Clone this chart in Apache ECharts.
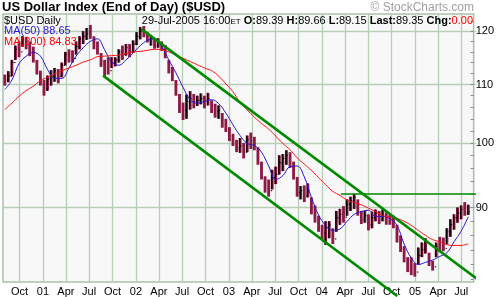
<!DOCTYPE html>
<html><head><meta charset="utf-8">
<script src="https://cdn.jsdelivr.net/npm/echarts@6/dist/echarts.min.js"></script>
<style>html,body{margin:0;padding:0;background:#fff}#c{width:497px;height:297px}</style>
</head><body><div id="c"></div>
<script>
// ---- data ----
const startDate = '2000-08-04';   // first bi-weekly bar
const stepDays = 14;
const high = [111.8,112.4,114.5,117.2,118.0,119.0,118.9,118.0,117.0,114.5,112.5,110.8,111.6,112.6,113.0,112.8,114.0,116.0,116.5,116.3,
  118.0,119.0,120.0,120.6,121.2,119.0,118.0,115.8,114.5,115.0,115.0,115.0,116.5,117.2,117.5,117.5,118.2,119.8,120.8,121.0,
  119.8,119.2,118.5,118.6,118.0,117.3,114.5,113.2,110.8,108.3,106.8,108.2,108.8,108.3,108.0,108.4,108.0,108.5,107.2,106.6,
  106.3,105.0,104.0,102.6,101.5,100.5,100.8,100.0,101.2,101.7,101.0,99.3,97.0,94.7,94.2,95.7,96.2,98.0,98.2,98.8,
  98.5,97.0,94.6,93.2,93.3,93.6,91.5,90.3,88.8,87.5,88.0,88.0,87.0,89.5,89.8,90.2,91.2,91.6,92.0,91.2,
  89.5,89.5,89.0,89.4,89.7,89.5,89.7,89.3,89.0,88.8,87.5,86.0,84.5,83.0,83.0,82.2,84.3,85.0,85.6,83.6,
  82.5,85.0,85.8,85.7,87.0,88.3,89.0,90.0,90.3,90.8,90.4];
const low = [109.8,110.4,111.5,114.5,115.0,117.0,116.5,115.2,114.0,111.8,109.8,108.0,108.9,109.8,110.5,110.2,111.3,113.5,114.0,114.0,
  115.5,116.5,117.5,118.3,118.5,116.5,115.5,113.2,111.5,111.8,113.0,113.3,114.0,114.5,115.3,115.0,115.8,117.3,118.4,118.8,
  117.8,117.2,116.6,116.8,116.2,114.8,112.0,110.6,108.0,105.0,103.8,104.0,105.6,105.8,106.2,106.5,105.8,106.3,105.0,104.2,
  104.0,102.5,101.8,100.3,99.5,98.5,98.4,97.5,98.5,99.0,98.8,96.5,94.2,92.2,91.6,92.7,93.5,95.0,95.5,96.5,
  96.0,94.2,91.6,91.2,90.8,91.5,89.0,87.8,86.5,85.5,84.7,85.6,84.8,86.5,87.5,87.8,88.8,89.5,89.8,88.8,
  87.6,87.8,86.7,87.0,88.0,87.6,88.0,87.5,87.5,87.0,85.0,83.7,82.3,81.0,80.6,80.4,82.0,83.0,83.5,81.8,
  81.2,83.0,83.8,83.8,84.8,85.8,86.8,87.8,88.3,88.8,88.9];
const close = [110.8,111.5,114.0,116.5,116.0,118.5,118.0,116.2,115.5,112.5,110.5,109.0,111.0,111.5,112.5,111.5,113.5,115.5,115.0,114.8,
  117.0,118.5,119.0,119.5,119.5,117.0,116.0,113.8,113.5,112.5,114.0,114.5,116.0,115.5,116.8,116.0,117.5,119.0,120.0,120.0,
  118.3,118.5,117.2,117.8,117.0,115.5,112.8,111.5,108.5,106.0,105.5,107.0,107.5,107.0,107.2,107.5,107.2,107.5,106.0,105.3,
  105.5,103.5,102.3,101.0,100.0,99.2,99.5,98.5,100.5,100.2,99.5,97.0,94.8,93.0,92.5,94.5,95.0,96.8,97.5,98.0,
  97.5,95.0,92.2,92.5,91.7,92.5,90.0,88.5,87.3,86.3,87.0,87.5,85.5,88.5,89.0,88.6,90.5,91.0,91.5,89.5,
  88.2,88.8,87.5,88.5,89.2,88.2,88.8,88.5,88.5,87.5,85.5,84.5,83.0,81.8,81.5,81.0,83.2,84.0,84.5,82.5,
  81.7,84.5,84.5,84.2,86.5,87.5,88.5,89.2,89.7,89.2,89.35];
const maStepDays = 28;
const ma50 = [109.1,110.8,113.8,115.2,115.9,115.2,112.7,111.1,111.1,113.0,115.2,116.8,118.0,118.5,116.4,114.1,113.5,114.5,115.8,117.2,
  118.2,118.5,117.0,114.5,112.1,109.5,107.3,106.7,107.0,107.3,106.6,105.0,103.0,101.2,99.9,99.6,98.5,96.3,94.2,94.8,
  96.2,96.3,94.6,91.5,88.9,87.4,86.7,86.9,88.0,89.0,89.4,89.6,88.7,88.7,88.4,87.4,84.8,82.9,82.0,82.3,
  82.6,83.1,83.6,85.1,86.6,88.65];
const ma200 = [105.6,106.7,107.9,108.9,109.7,110.7,111.3,111.9,112.5,113.0,113.5,114.1,114.5,115.1,115.2,115.3,115.4,115.7,116.0,116.1,
  116.3,116.5,116.4,116.0,115.4,114.8,114.2,113.6,113.0,112.5,111.5,110.1,108.7,106.8,105.5,104.3,103.2,102.3,101.1,99.9,
  98.9,97.6,96.6,95.6,94.5,93.4,92.4,91.8,91.1,90.7,90.4,89.9,89.4,88.8,88.6,88.4,88.0,87.4,86.7,86.0,
  85.4,85.1,84.7,84.6,84.6,84.83];
const quarterDates = ['2000-10-01','2001-01-01','2001-04-01','2001-07-01','2001-10-01','2002-01-01','2002-04-01','2002-07-01',
  '2002-10-01','2003-01-01','2003-04-01','2003-07-01','2003-10-01','2004-01-01','2004-04-01','2004-07-01','2004-10-01',
  '2005-01-01','2005-04-01','2005-07-01'];
const quarterLabels = ['Oct','01','Apr','Jul','Oct','02','Apr','Jul','Oct','03','Apr','Jul','Oct','04','Apr','Jul','Oct','05','Apr','Jul'];
const yLabelValues = [90,100,110,120];
const yMinorValues = [80,82,84,86,88,90,92,94,96,98,100,102,104,106,108,110,112,114,116,118,120,122];
const upperChannel = [['2002-01-23',120.4],['2005-11-06',78.5]];
const lowerChannel = [['2001-08-25',111.6],['2004-10-23',77.9]];
const resistance = [['2004-03-16',92],['2005-09-20',92]];
const quote = {date:'29-Jul-2005 16:00', tz:'ET', o:'89.39', h:'89.66', l:'89.15', last:'89.35', chg:'0.00'};
const xRange = ['2000-07-28','2005-08-19'];
const yRange = [79.7, 123.4];

// ---- build ----
const ts = s => new Date(s + 'T00:00:00').getTime();
function dateAt(i, step){ const d = new Date(startDate + 'T00:00:00'); d.setDate(d.getDate() + i*step); return d.getTime(); }
const priceData = close.map((c,i)=>[dateAt(i,stepDays), i===0?c:close[i-1], c, low[i], high[i]]);
const ma50Data = ma50.map((v,i)=>[dateAt(i,maStepDays), v]);
const ma200Data = ma200.map((v,i)=>[dateAt(i,maStepDays), v]);
const qTs = quarterDates.map(ts);
const toLine = arr => arr.map(p=>[ts(p[0]), p[1]]);
const FONT = 'Liberation Sans, Arial, sans-serif';
const GRID = '#b7cdb7';
const MAROON = '#8c1a45';

const chart = echarts.init(document.getElementById('c'), null, {renderer:'canvas'});
chart.setOption({
  animation:false,
  backgroundColor:'#ffffff',
  grid:{left:3, right:22, top:14, bottom:14, show:true, backgroundColor:'#f8f8f8', borderColor:'#a9c1a9', borderWidth:1.5},
  xAxis:{type:'value', min:ts(xRange[0]), max:ts(xRange[1]), scale:true,
    axisLine:{show:false},
    axisTick:{show:false, customValues:qTs},
    splitLine:{show:true, lineStyle:{color:GRID, width:1.3}},
    axisLabel:{customValues:qTs, margin:4, color:'#000', fontSize:11, fontFamily:FONT,
      formatter:(v)=>{ const k = qTs.indexOf(v); return k>=0?quarterLabels[k]:''; }}
  },
  yAxis:[
    {type:'log', logBase:10, min:yRange[0], max:yRange[1], position:'right',
      axisLine:{show:false},
      axisTick:{show:true, customValues:yLabelValues, length:3, lineStyle:{color:GRID}},
      splitLine:{show:true, lineStyle:{color:GRID, width:1.3}},
      axisLabel:{customValues:yLabelValues, margin:2, color:'#000', fontSize:11, fontFamily:FONT, formatter:v=>String(Math.round(v))}
    },
    {type:'log', logBase:10, min:yRange[0], max:yRange[1], position:'right',
      axisLine:{show:false},
      axisTick:{show:true, inside:true, length:3, customValues:yMinorValues, lineStyle:{color:'#888'}},
      splitLine:{show:false}, axisLabel:{show:false}
    }
  ],
  series:[
    {type:'custom', name:'price', yAxisIndex:0, clip:true, z:2,
      encode:{x:0, y:[3,4]},
      data:priceData,
      renderItem(params, api){
        const x = api.value(0);
        const pHi = api.coord([x, api.value(4)]);
        const pLo = api.coord([x, api.value(3)]);
        const pO = api.coord([x, api.value(1)]);
        const pC = api.coord([x, api.value(2)]);
        const pNext = api.coord([x + stepDays*86400000, api.value(4)]);
        const step = pNext[0]-pHi[0];
        const w = step * 0.8;
        const up = api.value(2) > api.value(1);
        const children = [
          {type:'rect', shape:{x:pHi[0]-w/2, y:pHi[1], width:w, height:Math.max(1,pLo[1]-pHi[1])},
            style:{fill: MAROON}}
        ];
        if (up) {
          children.push({type:'line', shape:{x1:pHi[0]-0.4, y1:pHi[1], x2:pHi[0]-0.4, y2:pLo[1]},
            style:{stroke:'#000', lineWidth:1.3}});
          children.push({type:'line', shape:{x1:pHi[0]-w/2, y1:pO[1], x2:pHi[0], y2:pO[1]}, style:{stroke:'#000', lineWidth:1}});
          children.push({type:'line', shape:{x1:pHi[0], y1:pC[1], x2:pHi[0]+w/2, y2:pC[1]}, style:{stroke:'#000', lineWidth:1}});
        }
        return {type:'group', children};
      }
    },
    {type:'line', name:'MA50', data:ma50Data, smooth:0.4, showSymbol:false, z:3,
      lineStyle:{color:'#2a14d4', width:1}},
    {type:'line', name:'MA200', data:ma200Data, smooth:0.4, showSymbol:false, z:3,
      lineStyle:{color:'#ff1010', width:1}},
    {type:'line', data:toLine(upperChannel), showSymbol:false, clip:false, z:4, lineStyle:{color:'#008a00', width:2.6}},
    {type:'line', data:toLine(lowerChannel), showSymbol:false, clip:false, z:4, lineStyle:{color:'#008a00', width:2.6}},
    {type:'line', data:toLine(resistance), showSymbol:false, clip:false, z:4, lineStyle:{color:'#008a00', width:1.5}}
  ],
  graphic:{z:100, elements:[
    {type:'text', x:2, y:1, z:100, style:{text:'US Dollar Index (End of Day) ($USD)', font:'bold 13px '+FONT, fill:'#000'}},
    {type:'text', x:474, y:2, z:100, style:{text:'© StockCharts.com', font:'12px '+FONT, fill:'#a0a0a0', align:'right'}},
    {type:'text', x:4, y:15, z:100, style:{text:'$USD Daily', font:'11px '+FONT, fill:'#000'}},
    {type:'text', x:4, y:25.5, z:100, style:{text:'MA(50) ' + ma50[ma50.length-1].toFixed(2), font:'11px '+FONT, fill:'#2a14d4'}},
    {type:'text', x:4, y:36, z:100, style:{text:'MA(200) ' + ma200[ma200.length-1].toFixed(2), font:'11px '+FONT, fill:'#ff0000'}},
    {type:'text', x:473, y:15, z:100, style:{
      text:'{n|'+quote.date+'}{s|'+quote.tz+'} {b|O:}{n|'+quote.o+'} {b|H:}{n|'+quote.h+'} {b|L:}{n|'+quote.l+'} {b|Last:}{n|'+quote.last+'} {b|Chg:}{r|'+quote.chg+'}',
      align:'right', font:'11px '+FONT, fill:'#000',
      rich:{
        n:{fontSize:11, fontFamily:FONT, fill:'#000'},
        s:{fontSize:8, fontFamily:FONT, fill:'#000', verticalAlign:'bottom'},
        b:{fontSize:11, fontFamily:FONT, fontWeight:'bold', fill:'#000'},
        r:{fontSize:11, fontFamily:FONT, fill:'#ff0000'}
      }}}
  ]}
});
</script></body></html>
